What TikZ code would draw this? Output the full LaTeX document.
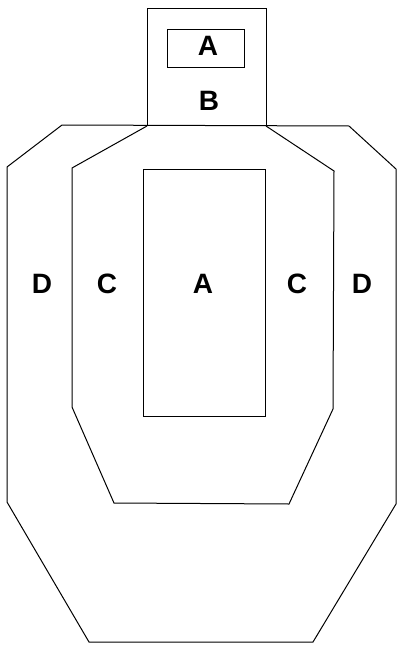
\documentclass[tikz,border=0pt]{standalone}
\usepackage{fontspec}
\setmainfont{Liberation Sans}
\usepackage{tikz}

\begin{document}
\begin{tikzpicture}[x=1pt,y=-1pt,line width=1pt,
	zone/.style={font=\fontsize{28}{28}\selectfont\bfseries,inner sep=0pt,anchor=base}]
		
		\useasboundingbox (0,0) rectangle (398,645);
		
		% outer D zone
		\draw (62,125) -- (349,126) -- (396,169) -- (396,504) -- (313,642)
			-- (89,642) -- (7,502) -- (7,167) -- cycle;
		
		% C zone
		\draw (147,126) -- (72,168) -- (72,407) -- (114,503) -- (289,504)
			-- (333,409) -- (334,171) -- (266,126);
		
		% head
		\draw (147,126) -- (147,8) -- (266,8) -- (266,126);
		\draw (167,29) rectangle (244,67);
		
		% body A
		\draw (143,169) rectangle (265,416);
		
		\node[zone] (headA) at (208,55) {A};
		\node[zone] (headB) at (209,110) {B};
		\node[zone] (leftD) at (42,293) {D};
		\node[zone] (leftC) at (107,293) {C};
		\node[zone] (bodyA) at (203,293) {A};
		\node[zone] (rightC) at (297,293) {C};
		\node[zone] (rightD) at (362,293) {D};
		
	\end{tikzpicture}
\end{document}
